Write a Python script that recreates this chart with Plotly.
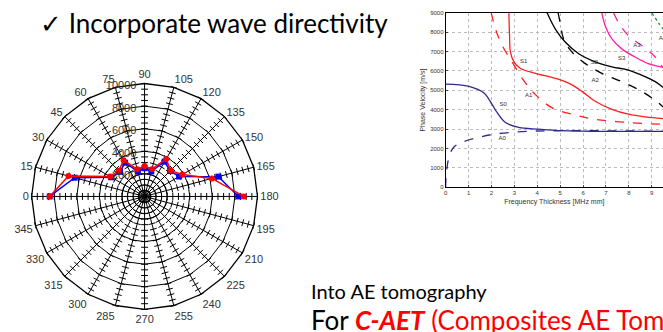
import plotly.graph_objects as go

# ---------------- Polar directivity data ----------------
angles = [0, 15, 30, 45, 60, 75, 90, 105, 120, 135, 150, 165, 180]
vel_red = [8400, 6980, 3530, 3220, 3710, 2490, 2700, 2500, 3830, 3260, 3870, 6170, 8780]
vel_blue = [8400, 6410, 3390, 3080, 3450, 2280, 2500, 2300, 3560, 3200, 3530, 6770, 8320]
angle_ticks = list(range(0, 360, 15))
radial_ticks = [2000, 4000, 6000, 8000, 10000]
spoke_tick_step = 500

# ---------------- Dispersion curves ----------------
s0_fd = [0, 1.02, 1.67, 2.03, 2.25, 2.61, 3.19, 4.06, 5.08, 6.53, 9.5]
s0_v = [5320, 5200, 4860, 4270, 3850, 3340, 3090, 3000, 2920, 2890, 2890]
a0_fd = [0, 0.03, 0.15, 0.36, 0.73, 1.45, 2.18, 3.63, 5.08, 9.5]
a0_v = [0, 730, 1570, 2080, 2330, 2580, 2750, 2890, 2920, 2890]
s1_fd = [2.76, 2.79, 2.83, 2.98, 3.27, 3.92, 4.79, 5.37, 5.95, 6.53, 7.26, 7.98, 8.71, 9.5]
s1_v = [9000, 7820, 6970, 6470, 6130, 5880, 5620, 5370, 4950, 4440, 4020, 3770, 3630, 3540]
a1_fd = [1.99, 2.18, 2.47, 2.90, 3.34, 3.92, 4.65, 5.52, 6.53, 7.98, 9.5]
a1_v = [9000, 8160, 7310, 6470, 5620, 4780, 4100, 3770, 3510, 3340, 3250]
s2_fd = [4.43, 4.79, 5.23, 5.81, 6.53, 7.26, 7.98, 8.71, 9.15, 9.5]
s2_v = [9000, 8160, 7480, 6890, 6470, 6210, 6050, 5710, 5450, 5150]
a2_fd = [4.91, 5.00, 5.15, 5.52, 6.10, 6.82, 7.69, 8.56, 9.29, 9.5]
a2_v = [9000, 8490, 7650, 6970, 6380, 5880, 5450, 4950, 4360, 4140]
s3_fd = [6.82, 6.97, 7.26, 7.69, 8.27, 8.85, 9.5]
s3_v = [9000, 8320, 7650, 7140, 6720, 6380, 6190]
a3_fd = [7.33, 7.55, 7.98, 8.56, 9.15, 9.5]
a3_v = [9000, 8490, 7820, 7310, 6720, 6150]
a4_fd = [9.0, 9.29, 9.5]
a4_v = [9000, 8490, 8160]

mode_labels = ["S1", "A1", "S0", "A0", "S2", "A2", "A3", "S3", "A4"]
mode_label_x = [3.41, 3.63, 2.51, 2.47, 6.5, 6.53, 8.35, 7.69, 9.47]
mode_label_y = [6500, 4730, 4270, 2530, 6420, 5500, 7310, 6640, 7650]

NAVY = "#2e2a8c"
RED = "#ff1f1f"
MAG = "#ff1fa5"
GRN = "#1a9a3a"

cats = [str(a) for a in angle_ticks]

fig = go.Figure()

# spoke tick marks
tr, tt, ta = [], [], []
for a in angle_ticks:
    for r in range(spoke_tick_step, 10001, spoke_tick_step):
        tr.append(r)
        tt.append(str(a))
        ta.append(a)
fig.add_trace(go.Scatterpolar(
    r=tr, theta=tt, mode="markers", hoverinfo="skip", showlegend=False,
    marker=dict(symbol="line-ns", size=5, angle=ta,
                line=dict(color="black", width=1), color="black"),
))

fig.add_trace(go.Scatterpolar(
    r=vel_blue, theta=[str(a) for a in angles], mode="lines+markers", showlegend=False,
    line=dict(color="#0000ff", width=1.5),
    marker=dict(symbol="square", size=6, color="#0000ff"),
))
fig.add_trace(go.Scatterpolar(
    r=vel_red, theta=[str(a) for a in angles], mode="lines+markers", showlegend=False,
    line=dict(color="#ff0000", width=1.5),
    marker=dict(symbol="circle", size=6, color="#ff0000"),
))

curves = [
    (a0_fd, a0_v, NAVY, "dash"), (s0_fd, s0_v, NAVY, "solid"),
    (a1_fd, a1_v, RED, "dash"), (s1_fd, s1_v, RED, "solid"),
    (a2_fd, a2_v, "black", "dash"), (s2_fd, s2_v, "black", "solid"),
    (a3_fd, a3_v, MAG, "dash"), (s3_fd, s3_v, MAG, "solid"),
    (a4_fd, a4_v, GRN, "dot"),
]
for fx, fy, c, d in curves:
    fig.add_trace(go.Scatter(x=fx, y=fy, mode="lines", line=dict(color=c, width=1.3, dash=d, shape="spline"),
                             showlegend=False, xaxis="x", yaxis="y", hoverinfo="skip"))

fig.add_trace(go.Scatter(x=mode_label_x, y=mode_label_y, mode="text", text=mode_labels,
                         textfont=dict(size=6, color="#333333", family="Liberation Sans"),
                         showlegend=False, hoverinfo="skip"))

W, H = 663, 332
cx0, cx1 = 28, 258
cy0, cy1 = 82, 312

fig.update_layout(
    width=W, height=H, margin=dict(l=0, r=0, t=0, b=0),
    paper_bgcolor="white", plot_bgcolor="white",
    font=dict(family="Liberation Sans", color="#333333"),
    polar=dict(
        domain=dict(x=[cx0 / W, cx1 / W], y=[1 - cy1 / H, 1 - cy0 / H]),
        gridshape="linear", bgcolor="white",
        angularaxis=dict(type="category", categoryorder="array", categoryarray=cats,
                         rotation=180, direction="clockwise",
                         showline=True, linecolor="black", linewidth=1.3,
                         gridcolor="black", gridwidth=1.2, ticks="",
                         tickfont=dict(size=11, color="#333333")),
        radialaxis=dict(range=[0, 10000], tickmode="array", tickvals=radial_ticks,
                        ticktext=[str(v) for v in radial_ticks], angle=90, side="counterclockwise",
                        showline=False, gridcolor="black", gridwidth=1.2, ticks="",
                        tickfont=dict(size=11, color="#333333")),
    ),
    xaxis=dict(domain=[445 / W, 1.0], range=[0, 9.49], tickmode="array", tickvals=list(range(10)),
               showgrid=True, gridcolor="#bbbbbb", griddash="dot", gridwidth=0.8,
               showline=True, linecolor="black", linewidth=0.8, mirror=True,
               ticks="inside", ticklen=2, zeroline=False,
               tickfont=dict(size=6, color="#333333"),
               title=dict(text="Frequency Thickness [MHz mm]", font=dict(size=7, color="#333333"), standoff=3)),
    yaxis=dict(domain=[1 - 187.7 / H, 1 - 10 / H], range=[0, 9000], tickmode="array",
               tickvals=list(range(0, 9001, 1000)),
               showgrid=True, gridcolor="#bbbbbb", griddash="dot", gridwidth=0.8,
               showline=True, linecolor="black", linewidth=0.8, mirror=False,
               ticks="inside", ticklen=2, zeroline=False,
               tickfont=dict(size=6, color="#333333"),
               title=dict(text="Phase Velocity [m/s]", font=dict(size=7, color="#333333"), standoff=3)),
    annotations=[
        dict(text="✓ Incorporate wave directivity", x=36 / W, y=1 - 2 / H, xref="paper", yref="paper",
             xanchor="left", yanchor="top", showarrow=False,
             font=dict(family="Lato", size=26, color="black")),
        dict(text="Into AE tomography", x=308 / W, y=1 - 279 / H, xref="paper", yref="paper",
             xanchor="left", yanchor="top", showarrow=False,
             font=dict(family="Lato", size=20, color="black")),
        dict(text="For <span style='color:#ff0000'><b><i>C-AET</i></b> (Composites AE Tomography)</span>",
             x=308 / W, y=1 - 304 / H, xref="paper", yref="paper",
             xanchor="left", yanchor="top", showarrow=False,
             font=dict(family="Lato", size=26, color="black")),
    ],
)
fig.write_html("out.html")
